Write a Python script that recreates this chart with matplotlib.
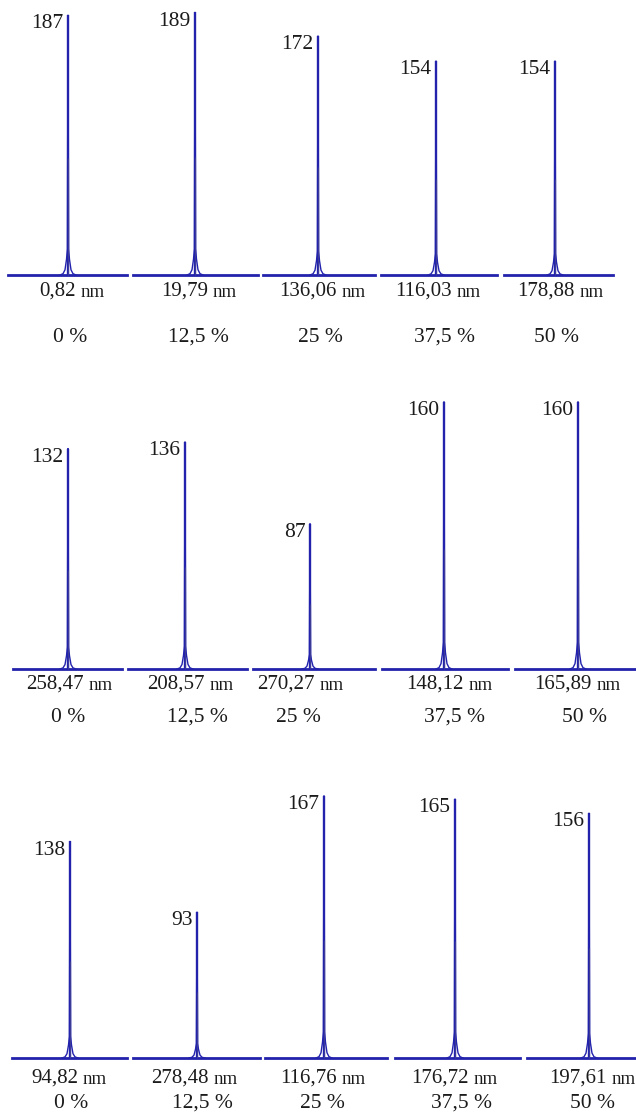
import matplotlib
matplotlib.use("Agg")
import matplotlib.pyplot as plt

# ---- data -------------------------------------------------------------
peak_heights = [
    [187, 189, 172, 154, 154],
    [132, 136, 87, 160, 160],
    [138, 93, 167, 165, 156],
]
sizes_nm = [
    ["0,82", "19,79", "136,06", "116,03", "178,88"],
    ["258,47", "208,57", "270,27", "148,12", "165,89"],
    ["94,82", "278,48", "116,76", "176,72", "197,61"],
]
fractions = ["0 %", "12,5 %", "25 %", "37,5 %", "50 %"]

# narrow distribution shape around each maximum (offset, share of peak)
skirt_dx = [-8, -5, -3, -1.5, -0.6, 0, 0.6, 1.5, 3, 5, 8]
skirt_share = [0, 0.005, 0.02, 0.06, 0.10, 1.0, 0.10, 0.06, 0.02, 0.005, 0]
shoulder_share = 0.45

# ---- layout (pixels) --------------------------------------------------
W, H = 636, 1114
row_top = [0, 380, 770]
row_base = [275, 669, 1058]
row_px_per_unit = [1.39, 1.67, 1.57]
panel_span = [
    [(8, 127), (133, 258), (263, 375), (381, 497), (504, 613)],
    [(13, 122), (128, 247), (253, 375), (382, 508), (515, 636)],
    [(12, 127), (133, 260), (265, 387), (395, 520), (527, 636)],
]
peak_x = [
    [68, 195, 318, 436, 555],
    [68, 185, 310, 444, 578],
    [70, 197, 324, 455, 589],
]
size_left = [
    [39, 161, 279, 395, 517],
    [26, 147, 257, 406, 534],
    [31, 151, 280, 411, 549],
]
pct_center = [
    [70, 198, 320, 445, 557],
    [68, 197, 298, 455, 585],
    [71, 202, 322, 462, 592],
]
size_baseline = [296, 689, 1083]
pct_baseline = [342, 722, 1108]

BLUE = "#2222ad"
SHOULDER = "#3c3c96"
INK = "#1b1b1b"
FONT = ["Liberation Serif", "DejaVu Serif"]

fig = plt.figure(figsize=(W / 100, H / 100), dpi=100)
fig.patch.set_facecolor("white")


def fx(px):
    return px / W


def fy(py):
    return 1 - py / H


for r in range(3):
    ytop = (row_base[r] - row_top[r]) / row_px_per_unit[r]
    for c in range(5):
        x0, x1 = panel_span[r][c]
        ax = fig.add_axes([fx(x0), fy(row_base[r]), fx(x1) - fx(x0),
                           fy(row_top[r]) - fy(row_base[r])])
        ax.set_xlim(x0, x1)
        ax.set_ylim(0, ytop)
        ax.axis("off")

        h = peak_heights[r][c]
        px = peak_x[r][c]

        ax.axhline(0, color=BLUE, lw=2.0, clip_on=False, zorder=2)
        ax.plot([px + d for d in skirt_dx], [h * s for s in skirt_share],
                color=BLUE, lw=1.0, clip_on=False, zorder=3)
        ax.vlines(px, 0, h, color=BLUE, lw=1.7, clip_on=False, zorder=4)
        ax.vlines(px + 0.3, 0, h * shoulder_share, color=SHOULDER, lw=0.8,
                  clip_on=False, zorder=5)

        ax.annotate(str(h), xy=(px, h), xytext=(-3.4, 0.5),
                    textcoords="offset points", ha="right", va="top",
                    fontsize=15.5, family=FONT, color=INK,
                    annotation_clip=False)

        t = fig.text(fx(size_left[r][c]), fy(size_baseline[r]),
                     sizes_nm[r][c], ha="left", va="baseline",
                     fontsize=15, family=FONT, color=INK)
        ax.annotate("nm", xy=(1, 0), xycoords=t, xytext=(3.5, 0),
                    textcoords="offset points", ha="left", va="bottom",
                    fontsize=13.5, family=FONT, color=INK,
                    annotation_clip=False)

        fig.text(fx(pct_center[r][c]), fy(pct_baseline[r]), fractions[c],
                 ha="center", va="baseline", fontsize=15.5, family=FONT,
                 color=INK)

fig.savefig("out.png", dpi=100, facecolor="white")
